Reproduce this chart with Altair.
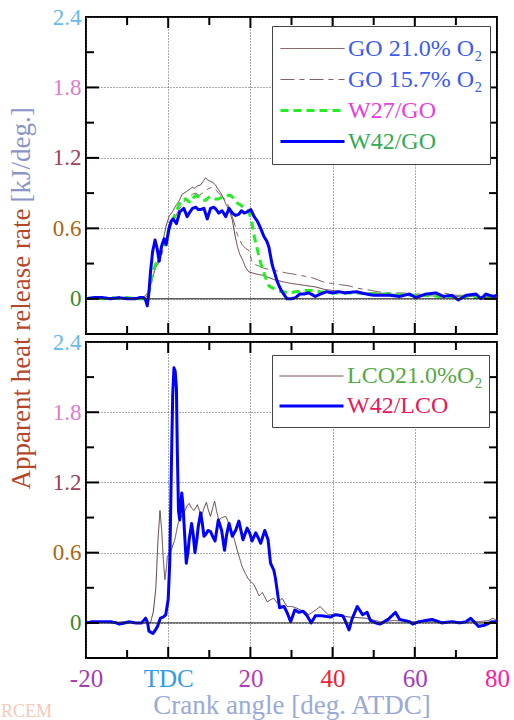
import altair as alt
import pandas as pd

# ---------------- data (crank angle [deg], heat release rate [kJ/deg]) -------------
go21 = [(-20, 0.01), (-17, 0.01), (-14, 0.01), (-11, 0.01), (-8, 0.01), (-6.5, 0.01), (-5.8, 0.02),
        (-5, 0.05), (-4, 0.15), (-3, 0.28), (-2.2, 0.35), (-1.5, 0.45), (-1, 0.54), (-0.5, 0.62),
        (0.2, 0.70), (1, 0.74), (1.8, 0.79), (2.6, 0.83), (3.4, 0.89), (4.3, 0.91), (5.1, 0.93),
        (5.9, 0.95), (6.3, 0.94), (7.1, 0.96), (7.9, 0.97), (8.5, 1.0), (9.1, 1.03), (9.7, 1.01),
        (10.3, 1.0), (10.9, 0.99), (11.5, 0.97), (12.2, 0.93), (12.8, 0.90), (13.4, 0.86), (14, 0.81),
        (14.8, 0.76), (15.6, 0.67), (16.2, 0.55), (16.8, 0.45), (17.4, 0.38), (18, 0.34), (18.8, 0.27),
        (19.6, 0.23), (20.5, 0.22), (21.5, 0.21), (23, 0.20), (24.5, 0.18), (26, 0.16), (28.5, 0.14),
        (30, 0.13), (32, 0.12), (34, 0.11), (36, 0.10), (38, 0.08), (40, 0.07), (43, 0.06), (46, 0.05),
        (50, 0.05), (54, 0.04), (58, 0.03), (62, 0.03), (66, 0.02), (70, 0.02), (74, 0.02), (77, 0.01),
        (80, 0.01)]

go157 = [(-20, 0.01), (-16, 0.01), (-12, 0.01), (-8, 0.0), (-6, 0.0), (-5.2, 0.02), (-4.5, 0.1),
         (-4, 0.18), (-3, 0.27), (-2, 0.32), (-1, 0.45), (-0.5, 0.52), (0.3, 0.6), (1, 0.64), (1.8, 0.7),
         (2.6, 0.76), (3.4, 0.8), (4.3, 0.85), (5.1, 0.87), (5.9, 0.89), (6.7, 0.9), (7.5, 0.88),
         (8.3, 0.9), (9.1, 0.92), (9.9, 0.94), (10.7, 0.95), (11.5, 0.93), (12.3, 0.9), (13.1, 0.87),
         (14, 0.84), (14.8, 0.78), (15.6, 0.7), (16.3, 0.62), (16.8, 0.55), (17.4, 0.5), (18, 0.46),
         (18.8, 0.43), (19.7, 0.41), (20.4, 0.31), (21.2, 0.29), (22, 0.28), (23.3, 0.26), (24.5, 0.25),
         (26, 0.24), (27.5, 0.23), (28.7, 0.22), (30.5, 0.21), (32, 0.2), (33.5, 0.19), (35, 0.18),
         (36.5, 0.16), (38, 0.14), (40, 0.13), (42, 0.12), (44, 0.11), (46, 0.09), (48, 0.08),
         (51, 0.06), (54, 0.05), (57, 0.05), (60, 0.04), (64, 0.04), (67, 0.05), (70, 0.03), (74, 0.03),
         (77, 0.02), (80, 0.02)]

w27go = [(-20, 0.0), (-18, 0.01), (-16, 0.0), (-14, 0.01), (-12, 0.0), (-10, 0.01), (-8, 0.0),
         (-6, 0.0), (-5.2, 0.0), (-4.5, 0.08), (-3.9, 0.21), (-3.0, 0.30), (-2.4, 0.36), (-1.8, 0.42),
         (-1.2, 0.45), (-0.5, 0.50), (0, 0.57), (0.6, 0.63), (1.2, 0.68), (1.8, 0.73), (2.4, 0.78),
         (3.0, 0.83), (3.7, 0.85), (4.3, 0.85), (4.9, 0.83), (5.5, 0.82), (6.1, 0.86), (6.7, 0.88),
         (7.3, 0.87), (7.9, 0.85), (8.5, 0.84), (9.1, 0.84), (9.7, 0.86), (10.3, 0.87), (10.9, 0.86),
         (11.5, 0.85), (12.2, 0.85), (12.8, 0.86), (13.4, 0.87), (14.0, 0.87), (14.6, 0.88),
         (15.2, 0.88), (15.8, 0.86), (16.4, 0.83), (17.0, 0.81), (17.6, 0.80), (18.2, 0.78),
         (18.8, 0.77), (19.6, 0.74), (20.2, 0.68), (21.0, 0.52), (21.7, 0.42), (22.2, 0.34),
         (23.0, 0.25), (23.7, 0.18), (24.5, 0.11), (25.5, 0.09), (26.5, 0.07), (28, 0.06), (29.4, 0.05),
         (31, 0.06), (33, 0.07), (35, 0.07), (37, 0.06), (40, 0.05), (43, 0.05), (46, 0.05), (50, 0.04),
         (54, 0.04), (58, 0.03), (62, 0.03), (66, 0.02), (70, 0.02), (74, 0.01), (77, 0.01), (80, 0.0)]

w42go = [(-20, 0.0), (-18, 0.01), (-16, 0.01), (-14, 0.0), (-12, 0.01), (-10, 0.0), (-8, 0.0),
         (-7, 0.01), (-6, 0.01), (-5.5, -0.01), (-5.1, -0.06), (-4.7, 0.05), (-4.3, 0.23), (-3.8, 0.40),
         (-3.2, 0.50), (-2.7, 0.43), (-2.2, 0.32), (-1.6, 0.45), (-1.0, 0.51), (-0.5, 0.46), (0.2, 0.60),
         (0.7, 0.66), (1.2, 0.68), (2.0, 0.64), (2.8, 0.74), (3.8, 0.77), (4.6, 0.70), (5.3, 0.74),
         (5.9, 0.77), (6.7, 0.78), (7.3, 0.76), (7.9, 0.76), (8.7, 0.77), (9.5, 0.68), (10.3, 0.77),
         (11.1, 0.78), (11.7, 0.76), (12.3, 0.73), (13.1, 0.75), (14.0, 0.70), (14.8, 0.77),
         (15.6, 0.73), (16.4, 0.71), (17.2, 0.72), (17.8, 0.75), (18.5, 0.73), (19.2, 0.74),
         (20.1, 0.76), (20.9, 0.70), (21.7, 0.66), (22.5, 0.60), (23.3, 0.53), (24.0, 0.49),
         (24.5, 0.44), (25.3, 0.29), (26.0, 0.21), (26.5, 0.15), (27.1, 0.10), (27.7, 0.06),
         (28.9, 0.0), (30, 0.0), (31, 0.01), (32, 0.04), (33, 0.04), (34.2, 0.05), (35.8, 0.02),
         (37, 0.04), (38.5, 0.06), (40, 0.05), (41.5, 0.06), (43, 0.05), (45.8, 0.06), (48.2, 0.04),
         (50, 0.03), (51.5, 0.03), (54, 0.03), (56.3, 0.02), (58.7, 0.04), (60.3, 0.01), (62.7, 0.04),
         (65.1, 0.05), (67, 0.02), (69, 0.03), (70.6, -0.01), (72.5, 0.03), (74.9, 0.04), (76.1, 0.0),
         (77.3, 0.04), (79, 0.02), (80, 0.03)]

lco21 = [(-20, 0.0), (-17, 0.01), (-14, 0.0), (-11, 0.01), (-8, 0.0), (-6, 0.0), (-4.3, 0.0),
         (-3.6, 0.1), (-3.0, 0.3), (-2.5, 0.7), (-2.0, 0.96), (-1.6, 0.8), (-1.2, 0.55), (-0.8, 0.37),
         (-0.4, 0.48), (-0.2, 0.57), (0.6, 0.61), (1.6, 0.71), (2.4, 0.85), (3.2, 0.91), (4.1, 0.96),
         (4.6, 1.0), (5.1, 1.02), (5.7, 0.98), (6.3, 0.96), (7.1, 1.01), (7.6, 0.96), (8.1, 0.91),
         (8.7, 0.98), (9.3, 1.03), (9.8, 0.96), (10.3, 0.91), (10.8, 0.98), (11.3, 1.04), (11.8, 0.95),
         (12.3, 0.88), (13.1, 0.90), (14.0, 0.91), (14.8, 0.85), (15.6, 0.77), (16.2, 0.70),
         (16.8, 0.62), (17.4, 0.55), (18.0, 0.48), (18.8, 0.42), (19.6, 0.37), (20.2, 0.35),
         (20.8, 0.33), (21.5, 0.28), (22.1, 0.23), (22.9, 0.26), (23.5, 0.22), (24.1, 0.18), (25, 0.20),
         (25.7, 0.21), (26.5, 0.17), (27.1, 0.19), (27.7, 0.21), (28.9, 0.14), (30, 0.14), (31, 0.13),
         (32.2, 0.11), (33.2, 0.10), (34.2, 0.07), (35.5, 0.1), (37, 0.14), (38, 0.10), (39, 0.07),
         (41, 0.07), (44, 0.05), (48, 0.04), (51.6, 0.01), (55, 0.02), (60, 0.01), (65, 0.01),
         (70, 0.01), (75.5, 0.01), (78, 0.02), (79, 0.04), (80, 0.02)]

w42lco = [(-20, 0.0), (-18.4, 0.01), (-16, 0.01), (-14, 0.01), (-12.6, 0.0), (-11.9, -0.01),
          (-10.5, 0.0), (-9.5, 0.01), (-8, 0.0), (-6.5, 0.0), (-5.5, 0.04), (-5.0, 0.0), (-4.7, -0.07),
          (-3.7, -0.09), (-3.1, -0.06), (-2.6, -0.03), (-1.9, 0.04), (-1.2, 0.05), (-0.6, 0.07),
          (0.0, 0.2), (0.4, 0.54), (0.8, 1.39), (1.1, 1.95), (1.4, 2.18), (1.7, 2.15), (2.0, 2.01),
          (2.2, 1.5), (2.5, 0.96), (2.8, 0.88), (3.3, 1.11), (3.6, 1.0), (3.8, 0.88), (4.4, 0.51),
          (4.8, 0.6), (5.1, 0.71), (5.7, 0.85), (6.1, 0.75), (6.5, 0.6), (7.0, 0.72), (7.3, 0.82),
          (7.9, 0.94), (8.3, 0.85), (8.7, 0.74), (9.2, 0.76), (9.7, 0.79), (10.3, 0.78), (10.8, 0.74),
          (11.4, 0.70), (12.2, 0.88), (13.0, 0.79), (13.7, 0.62), (14.2, 0.75), (14.8, 0.85),
          (15.6, 0.74), (16.4, 0.79), (17.2, 0.87), (18.2, 0.71), (19.2, 0.81), (19.8, 0.77),
          (20.4, 0.70), (21.3, 0.77), (22.0, 0.72), (22.5, 0.68), (23.5, 0.79), (24.3, 0.71),
          (24.9, 0.51), (25.7, 0.45), (26.1, 0.38), (26.5, 0.28), (27.1, 0.13), (28.2, 0.14),
          (28.9, 0.09), (29.8, 0.01), (30.8, 0.11), (31.8, 0.09), (32.8, 0.10), (33.8, 0.06),
          (34.8, 0.0), (35.8, 0.06), (37.5, 0.06), (39.5, 0.05), (40.7, 0.07), (42.5, 0.06), (43.3, 0.0),
          (44.0, -0.06), (44.7, 0.03), (46.0, 0.14), (47.3, 0.07), (48.4, 0.09), (49.2, 0.02),
          (50.5, 0.0), (51.6, -0.01), (53.5, 0.03), (55.3, 0.09), (56.3, 0.03), (58.7, 0.01),
          (59.5, -0.01), (61, 0.01), (64.2, 0.03), (66.6, 0.0), (69, 0.01), (71, 0.0), (72.5, 0.01),
          (73.6, 0.04), (75.5, -0.03), (77, -0.02), (78.8, 0.01), (80, 0.01)]

top_names = ["GO 21.0% O₂", "GO 15.7% O₂", "W27/GO", "W42/GO"]
bot_names = ["LCO21.0%O₂", "W42/LCO"]

x_tick_values = [-20, 0, 20, 40, 60, 80]
x_minor = [-10, 10, 30, 50, 70]
x_major_inner = [0, 20, 40, 60]
y_tick_values = [0, 0.6, 1.2, 1.8, 2.4]
y_minor = [0.3, 0.9, 1.5, 2.1]
y_major_inner = [0, 0.6, 1.2, 1.8]

# ---------------- styles -------------
FONT = "Liberation Serif"
W = 411
H_TOP = 317
H_BOT = 316

xscale = alt.Scale(domain=[-20, 80], nice=False, zero=False)
yscale = alt.Scale(domain=[-0.3, 2.4], nice=False, zero=False)

x_label_color = ("datum.value < -10 ? '#a23db4' : datum.value == 0 ? '#3399ee' : "
                 "datum.value == 20 ? '#b03cc0' : datum.value == 40 ? '#ee2233' : "
                 "datum.value == 60 ? '#a23cc0' : '#ff1aa0'")
y_label_color = ("datum.value < 0.3 ? '#3a8a22' : datum.value < 0.9 ? '#a8660f' : "
                 "datum.value < 1.5 ? '#a0405a' : datum.value < 2.1 ? '#e07ad0' : '#66bbee'")


def long_df(series, names):
    rows = []
    for name, pts in zip(names, series):
        for i, (a, v) in enumerate(pts):
            rows.append({"angle": a, "hrr": v, "series": name, "idx": i})
    return pd.DataFrame(rows)


def panel(series, names, colors, dashes, widths, label_colors, H, bottom,
          ytitle, ytitle_y, ytitle_align, ytitle_color, clip_h, leg_y, leg_pad):
    df = long_df(series, names)
    lc_expr = " : ".join([f"datum.label == '{n}' ? '{c}'" for n, c in zip(names, label_colors)]) + " : 'black'"
    leg = alt.Legend(title=None, orient="none", legendX=186, legendY=leg_y, symbolType="stroke",
                     symbolSize=4096, clipHeight=clip_h, labelFontSize=24, labelFont=FONT,
                     labelOffset=2, fillColor="white", strokeColor="#444", padding=leg_pad,
                     rowPadding=0, labelLimit=400, labelColor=alt.ExprRef(lc_expr))
    xaxis = alt.Axis(values=x_tick_values, grid=True, ticks=False, domain=False,
                     labels=bottom, labelExpr="datum.value == 0 ? 'TDC' : toString(datum.value)",
                     labelColor=alt.ExprRef(x_label_color), labelFontSize=25, labelFont=FONT,
                     labelPadding=8, labelFlush=False,
                     title="Crank angle [deg. ATDC]" if bottom else None,
                     titleFontSize=27, titleFont=FONT, titleFontWeight="normal",
                     titleColor="#9aaad8", titlePadding=1,
                     gridColor="#555", gridDash=[1, 2], gridWidth=1)
    yaxis = alt.Axis(values=y_tick_values, grid=True, ticks=False, domain=False,
                     labelExpr="datum.value == 0 ? '0' : format(datum.value, '.1f')",
                     labelColor=alt.ExprRef(y_label_color), labelFontSize=23, labelFont=FONT,
                     labelPadding=5, labelFlush=False,
                     title=ytitle, titleX=-65, titleY=ytitle_y, titleAlign=ytitle_align,
                     titleAngle=270, titleBaseline="middle", titleFontSize=27, titleFont=FONT,
                     titleFontWeight="normal", titleColor=ytitle_color,
                     gridColor="#555", gridDash=[1, 2], gridWidth=1)

    def X(field):
        return alt.X(field, scale=xscale, axis=xaxis)

    def Y(field):
        return alt.Y(field, scale=yscale, axis=yaxis)

    lines = alt.Chart(df).mark_line(clip=True, strokeJoin="round").encode(
        x=X("angle:Q"),
        y=Y("hrr:Q"),
        color=alt.Color("series:N", scale=alt.Scale(domain=names, range=colors), legend=leg),
        strokeDash=alt.StrokeDash("series:N", scale=alt.Scale(domain=names, range=dashes), legend=leg),
        strokeWidth=alt.StrokeWidth("series:N", scale=alt.Scale(type="ordinal", domain=names, range=widths),
                                    legend=leg),
        order="idx:Q",
    )
    zero = alt.Chart(pd.DataFrame({"hrr": [0]})).mark_rule(color="#222", strokeWidth=1).encode(
        y=Y("hrr:Q"))

    ticks = []
    for vals, ln in [(y_major_inner, 13), (y_minor, 8)]:
        d = pd.DataFrame({"hrr": vals})
        for x0, x1 in [(0, ln), (W, W - ln)]:
            ticks.append(alt.Chart(d).mark_rule(color="black", strokeWidth=2).encode(
                y=Y("hrr:Q"), x=alt.value(x0), x2=alt.value(x1)))
    for vals, ln in [(x_major_inner, 11), (x_minor, 8)]:
        d = pd.DataFrame({"angle": vals})
        for y0, y1 in [(0, ln), (H, H - ln)]:
            ticks.append(alt.Chart(d).mark_rule(color="black", strokeWidth=2).encode(
                x=X("angle:Q"), y=alt.value(y0), y2=alt.value(y1)))

    layers = [lines, zero] + ticks
    if bottom:
        mark = alt.Chart(pd.DataFrame({"t": ["RCEM"]})).mark_text(
            align="left", baseline="bottom", font=FONT, fontSize=18, color="#f7c9b6").encode(
            text="t:N", x=alt.value(-85), y=alt.value(H + 63))
        layers.append(mark)
    return alt.layer(*layers).properties(width=W, height=H)


top = panel([go21, go157, w27go, w42go], top_names,
            ["#5e3b3b", "#806262", "#22ee22", "#0000ff"],
            [[1, 0], [14, 5, 5, 5], [8, 5], [1, 0]], [1, 1, 3, 3],
            ["#3a5cf0", "#3a5cf0", "#e640e0", "#33aa55"], H_TOP, False,
            "[kJ/deg.]", 185, "left", "#8a94c8", 31, 9, 7)

bot = panel([lco21, w42lco], bot_names,
            ["#5e3b3b", "#0000ff"], [[1, 0], [1, 0]], [1, 3],
            ["#55aa44", "#e8185a"], H_BOT, True,
            "Apparent heat release rate", -134, "right", "#b5462a", 30, 13, 6)

chart = alt.vconcat(top, bot, spacing=8, bounds="flush").resolve_scale(
    color="independent", strokeDash="independent", strokeWidth="independent"
).resolve_legend(color="independent", strokeDash="independent", strokeWidth="independent"
).properties(padding={"left": 0, "top": 5, "right": 0, "bottom": 0}
).configure(font=FONT, background="white"
).configure_view(stroke="black", strokeWidth=2)

chart.save("out.html", embed_options={"renderer": "svg", "actions": False})
